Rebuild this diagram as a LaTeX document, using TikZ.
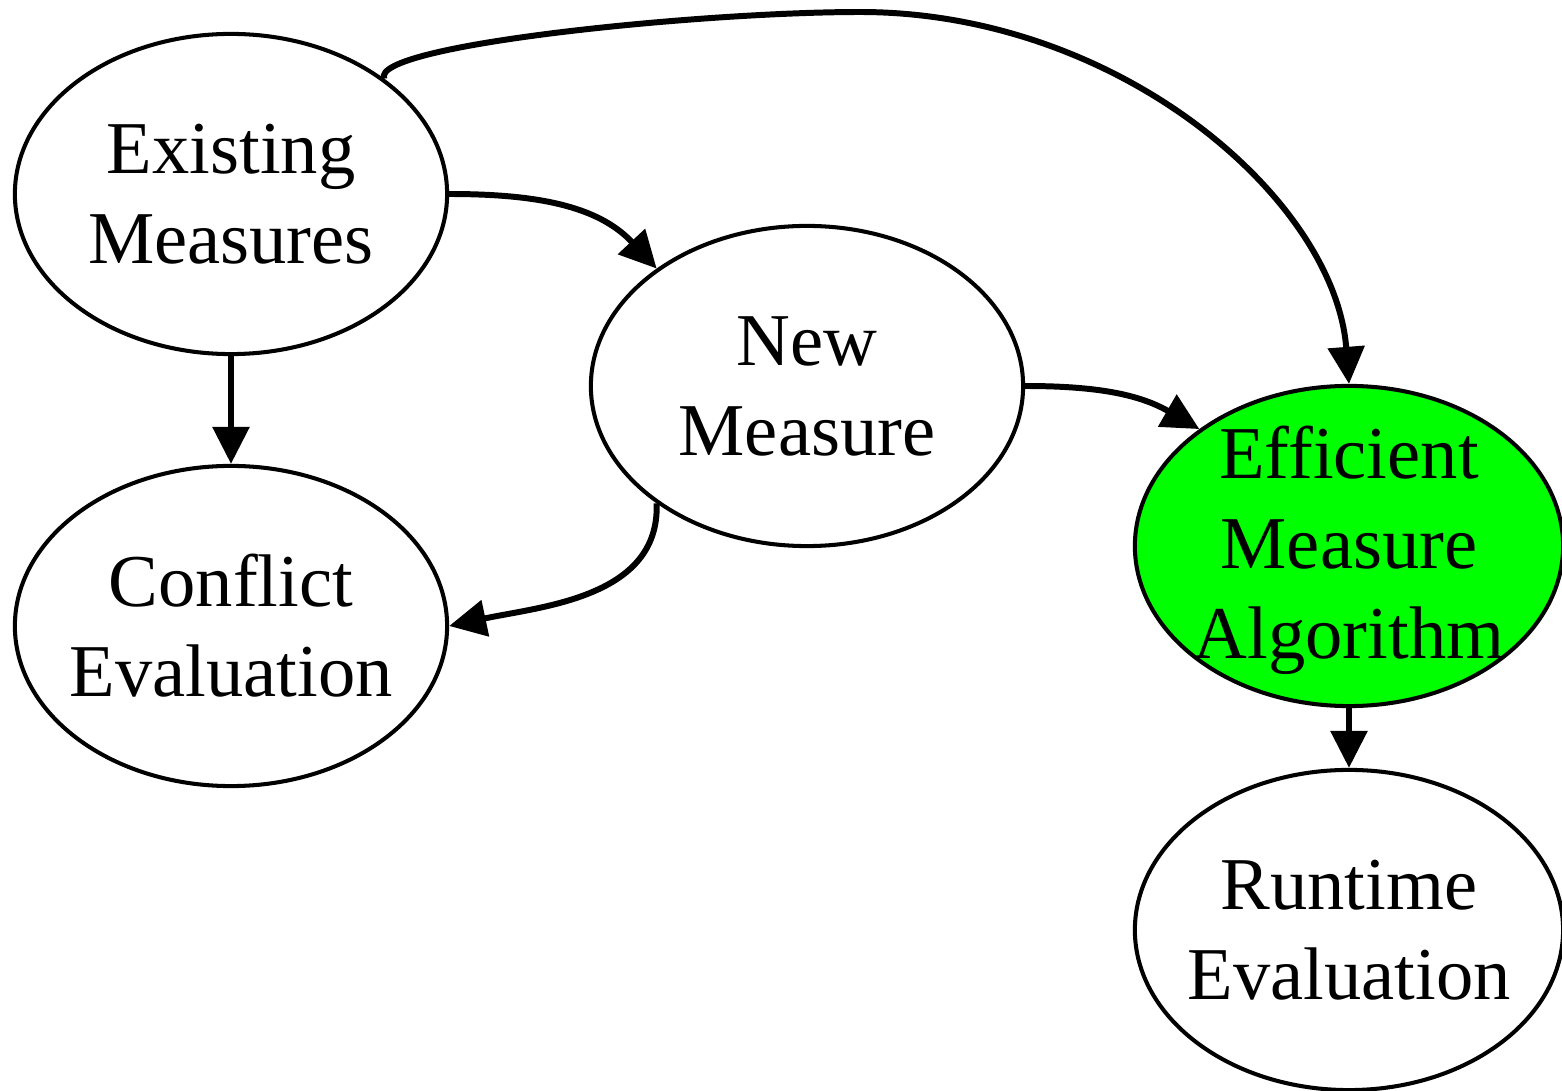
\documentclass[tikz,border=0pt]{standalone}
\usepackage{fontspec}
\setmainfont{Liberation Serif}
\usetikzlibrary{shapes.geometric,arrows.meta}
\begin{document}
\begin{tikzpicture}[x=0.01cm,y=-0.01cm,
  ell/.style={ellipse,draw=black,line width=1.15pt,minimum width=4.32cm,minimum height=3.2cm,inner sep=0pt},
  txt/.style={align=center,font=\fontsize{21.2}{25.6}\selectfont},
  conn/.style={line width=1.7pt,-{Triangle[length=0.37cm,width=0.36cm]}}]
\useasboundingbox (0,0) rectangle (1562,1091);
\node[ell,label={[txt]center:Existing\\Measures}] (e) at (231,194) {};
\node[ell,label={[txt]center:Conflict\\Evaluation}] (c) at (231,626) {};
\node[ell,label={[txt]center:New\\Measure}] (n) at (807,386) {};
\node[ell,fill={rgb,255:red,0;green,255;blue,0},minimum width=4.28cm,label={[txt,yshift=-0.04cm]center:Efficient\\Measure\\Algorithm}] (f) at (1349,546) {};
\node[ell,minimum width=4.28cm,label={[txt]center:Runtime\\Evaluation}] (r) at (1349,930) {};
\draw[conn] (e.east) to[out=0,in=133] (n.142);
\draw[conn] (e.south) -- (c.north);
\draw[conn] (e.37) .. controls (370,45) and (700,12) .. (860,12) .. controls (1120,12) and (1335,200) .. (f.north);
\draw[conn] (n.east) to[out=0,in=150] (f.142);
\draw[conn] (n.218) to[out=272,in=12] (c.east);
\draw[conn] (f.south) -- (r.north);
\end{tikzpicture}
\end{document}
